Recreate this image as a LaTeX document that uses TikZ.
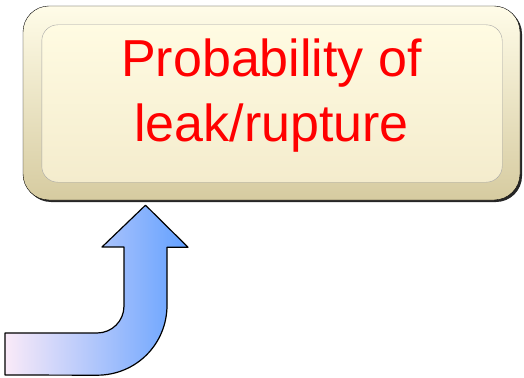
\documentclass[tikz,border=0pt]{standalone}
\usepackage{fontspec}
\setmainfont{Liberation Sans}
\definecolor{creamtop}{HTML}{FFFCE8}
\definecolor{creambot}{HTML}{D6CBA0}
\definecolor{facetop}{HTML}{FFFBE2}
\definecolor{facebot}{HTML}{F4ECCD}
\definecolor{arrowpink}{HTML}{FAEAF8}
\definecolor{arrowblue}{HTML}{62A0FF}
\begin{document}
\begin{tikzpicture}[x=1pt,y=-1pt,line join=round,
  probbox/.style={draw=black,thin,rounded corners=26pt,top color=creamtop,bottom color=creambot,
    minimum width=497pt,minimum height=194pt,inner sep=0pt},
  bevel/.style={draw=black!35,thin,rounded corners=16pt,top color=facetop,bottom color=facebot},
  upflow/.style={draw=black,line width=1.2pt,left color=arrowpink,right color=arrowblue}]
  \useasboundingbox (0,0) rectangle (524,377);
  % the box, its shadow and the sunk face
  \fill[black!85,rounded corners=26pt] (25,8) rectangle (522,202);
  \node (prob) [probbox] at (271.5,103) {};
  \path[bevel] ([shift={(19,19)}]prob.north west) rectangle ([shift={(-18,-18)}]prob.south east);
  \node (txt) [text=red,align=center,font=\fontsize{52}{65}\selectfont] at ([yshift=7pt]prob.center)
    {Probability of\\leak/rupture};
  % bent arrow into the box
  \coordinate (tip) at ([xshift=-126pt,yshift=-5pt]prob.south);
  \draw[upflow] (tip) -- ++(42.5,42) -- ++(-21,0) -- ++(0,58)
    .. controls ++(0,39) and ++(39,0) .. ++(-70,70) -- (5,375) -- (5,333) -- (97,333)
    .. controls ++(15,0) and ++(0,15) .. (124,306) -- (124,247) -- (102,247) -- cycle;
\end{tikzpicture}
\end{document}
